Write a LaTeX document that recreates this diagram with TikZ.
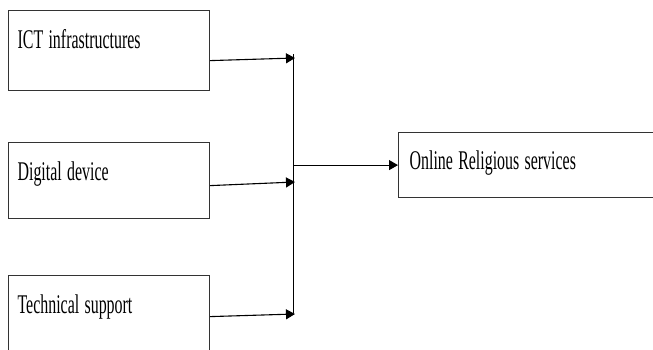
\documentclass[tikz,border=0pt]{standalone}
\usepackage{fontspec}
\setmainfont{Liberation Serif}
\usetikzlibrary{arrows.meta}
\newcommand{\narrowtext}[1]{\scalebox{0.59}[1]{#1}}

\begin{document}
\begin{tikzpicture}[x=1pt, y=-1pt,
        box/.style={draw=black!80, line width=1.2pt, inner xsep=9pt, inner ysep=0pt,
            text height=38pt, align=left, anchor=north west,
            font=\fontsize{27}{30}\selectfont},
        arr/.style={-{Triangle[length=9pt,width=10pt]}, line width=1.1pt}]
    \useasboundingbox (0,0) rectangle (653,349);

    \node[box, text width=183pt, text depth=42pt] at (8,10)(ict){\narrowtext{ICT infrastructures}};
    \node[box, text width=183pt, text depth=38pt] at (8,142)(dev){\narrowtext{Digital device}};
    \node[box, text width=183pt, text depth=42pt] at (8,275)(sup){\narrowtext{Technical support}};
    \node[box, inner xsep=11pt, text width=250pt, text height=37pt, text depth=28pt] at (398,132)(ors){\narrowtext{Online Religious services}};

    \coordinate (j1) at (295,58);
    \coordinate (j2) at (295,182);
    \coordinate (j3) at (295,314);
    \coordinate (j0) at (ors.west -| 293,0);

    \draw[line width=1pt] (293,54) -- (293,313);
    \path[arr]
        ([yshift=-10pt]ict.east) edge (j1)
        ([yshift=-5pt]dev.east) edge (j2)
        ([yshift=-1pt]sup.east) edge (j3)
        (j0) edge (ors.west);
\end{tikzpicture}
\end{document}
